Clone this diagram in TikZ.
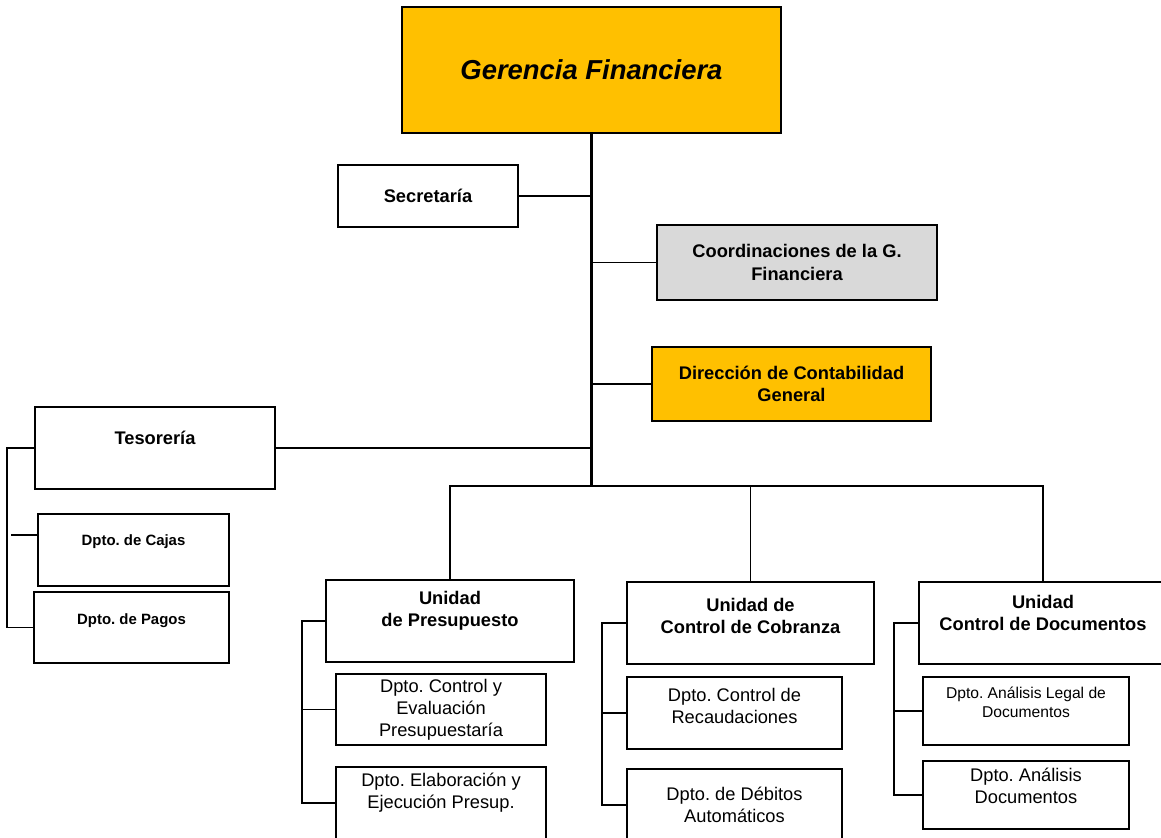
\documentclass[tikz,border=0pt]{standalone}
\usepackage{fontspec}
\setmainfont{Liberation Sans}
\frenchspacing
\usetikzlibrary{positioning,fit,calc}
\definecolor{GoldFill}{RGB}{255,192,0}
\definecolor{GrayFill}{RGB}{217,217,217}
\tikzset{
  box/.style={draw=black, line width=1pt, inner sep=0pt, fill=white},
  goldbox/.style={box, fill=GoldFill},
  graybox/.style={box, fill=GrayFill},
  bt/.style={font=\fontsize{10.4}{12.6}\selectfont\bfseries, align=center, inner sep=0pt},
  rt/.style={font=\fontsize{10.4}{12.6}\selectfont, align=center, inner sep=0pt},
  sbt/.style={font=\fontsize{8.5}{10.5}\selectfont\bfseries, align=center, inner sep=0pt},
  srt/.style={font=\fontsize{8.9}{11.2}\selectfont, align=center, inner sep=0pt},
  link/.style={line width=0.9pt},
  trunk/.style={line width=1.8pt},
}
\begin{document}
\begin{tikzpicture}[x=0.02cm, y=-0.02cm]
  \path[use as bounding box, clip] (0,0) rectangle (1161,838);
  % top level
  \node[goldbox, fit={(402,7) (781,133)}] (gerencia) {};
  \node[font=\fontsize{15.6}{18}\selectfont\bfseries\itshape, inner sep=0pt]
    (gerencia-t) at (gerencia.center) {Gerencia Financiera};
  \node[box, fit={(338,165) (518,227)}] (secre) {};
  \node[bt] (secre-t) at (secre.center) {Secretaría};
  \node[graybox, fit={(657,225) (937,300)}] (coord) {};
  \node[bt] (coord-t) at (coord.center) {Coordinaciones de la G.\\Financiera};
  \node[goldbox, fit={(652,347) (931,421)}] (direc) {};
  \node[bt] (direc-t) at (direc.center) {Dirección de Contabilidad\\General};
  \node[box, fit={(35,407) (275,489)}] (teso) {};
  \node[bt] (teso-t) at ([yshift=5.7pt]teso.center) {Tesorería};
  \node[box, fit={(38,514) (229,586)}] (cajas) {};
  \node[sbt] (cajas-t) at ([yshift=4.5pt]cajas.center) {Dpto. de Cajas};
  \node[box, fit={(34,592) (229,663)}] (pagos) {};
  \node[sbt] (pagos-t) at ([yshift=4pt]pagos.center) {Dpto. de Pagos};
  \coordinate (hub) at (gerencia.south |- 0,486);
  % units
  \node[box, fit={(326,580) (574,662)}] (presup) {};
  \node[bt] (presup-t) at ([yshift=5.7pt]presup.center) {Unidad\\de Presupuesto};
  \node[box, fit={(336,674) (546,745)}] (cteval) {};
  \node[rt] (cteval-t) at (cteval.center) {Dpto. Control y\\Evaluación\\Presupuestaría};
  \node[box, fit={(336,767) (546,839)}] (elab) {};
  \node[rt] (elab-t) at ([yshift=5.7pt]elab.center) {Dpto. Elaboración y\\Ejecución Presup.};
  \node[box, fit={(627,582) (874,664)}] (cobra) {};
  \node[bt] (cobra-t) at ([yshift=4pt]cobra.center) {Unidad de\\Control de Cobranza};
  \node[box, fit={(627,677) (842,749)}] (recaud) {};
  \node[rt] (recaud-t) at ([yshift=4pt]recaud.center) {Dpto. Control de\\Recaudaciones};
  \node[box, fit={(627,769) (842,841)}] (debit) {};
  \node[rt] (debit-t) at (debit.center) {Dpto. de Débitos\\Automáticos};
  \node[box, fit={(919,582) (1167,664)}] (docs) {};
  \node[bt] (docs-t) at ([yshift=5.7pt]docs.center) {Unidad\\Control de Documentos};
  \node[box, fit={(923,677) (1129,745)}] (legal) {};
  \node[srt] (legal-t) at ([yshift=5pt]legal.center) {Dpto. Análisis Legal de\\Documentos};
  \node[box, fit={(923,761) (1129,829)}] (anal) {};
  \node[rt] (anal-t) at ([yshift=5pt]anal.center) {Dpto. Análisis\\Documentos};
  % connectors
  \draw[trunk] (gerencia.south) -- (hub);
  \draw[link] (secre.east) -- (secre.east -| hub);
  \draw[link] (coord.west) -- (coord.west -| hub);
  \draw[link] (direc.west) -- (direc.west -| hub);
  \draw[link] (teso.east) -- (teso.east -| hub);
  \draw[link] (presup.north) -- (presup.north |- hub) -- (docs.north |- hub) -- (docs.north);
  \draw[link] (cobra.north) -- (cobra.north |- hub);
  \draw[link] (teso.west) -- ++(-27,0) |- (pagos.west);
  \draw[link] ($(cajas.north west)!0.3!(cajas.south west)$) -- ++(-26,0);
  \draw[link] (presup.west) -- ++(-23,0) |- (elab.west);
  \draw[link] (cteval.west) -- ++(-33,0);
  \draw[link] (cobra.west) -- ++(-24,0) |- (debit.west);
  \draw[link] (recaud.west) -- ++(-24,0);
  \draw[link] (docs.west) -- ++(-24,0) |- (anal.west);
  \draw[link] (legal.west) -- ++(-28,0);
\end{tikzpicture}
\end{document}
